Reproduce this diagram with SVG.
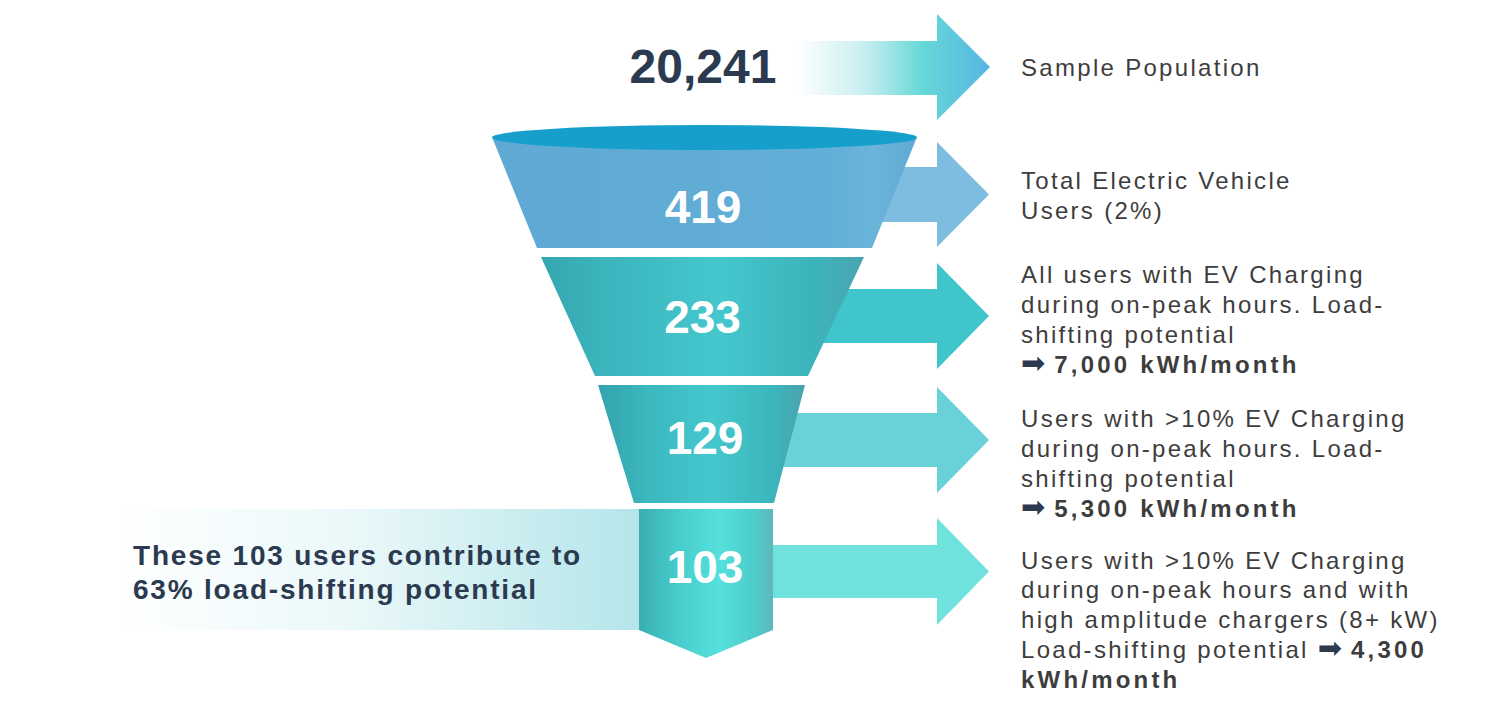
<svg xmlns="http://www.w3.org/2000/svg" width="1500" height="719" viewBox="0 0 1500 719">
<defs>
<linearGradient id="gTop" gradientUnits="userSpaceOnUse" x1="797" y1="0" x2="990" y2="0">
<stop offset="0" stop-color="#ffffff"/>
<stop offset="0.35" stop-color="#c8eef0"/>
<stop offset="0.65" stop-color="#66d8d8"/>
<stop offset="1" stop-color="#56b6e2"/>
</linearGradient>
<linearGradient id="gS1" gradientUnits="userSpaceOnUse" x1="492" y1="0" x2="917" y2="0">
<stop offset="0" stop-color="#5fa9d4"/>
<stop offset="0.8" stop-color="#62afd7"/>
<stop offset="0.9" stop-color="#6ab4da"/>
<stop offset="1" stop-color="#5fa8d2"/>
</linearGradient>
<linearGradient id="gS2" gradientUnits="userSpaceOnUse" x1="541" y1="0" x2="864" y2="0">
<stop offset="0" stop-color="#35a6b0"/>
<stop offset="0.2" stop-color="#3cb5bd"/>
<stop offset="0.55" stop-color="#44c7cd"/>
<stop offset="0.85" stop-color="#3cb3bb"/>
<stop offset="1" stop-color="#4aa5b0"/>
</linearGradient>
<linearGradient id="gS3" gradientUnits="userSpaceOnUse" x1="598" y1="0" x2="805" y2="0">
<stop offset="0" stop-color="#33a3ad"/>
<stop offset="0.25" stop-color="#3cb8bf"/>
<stop offset="0.55" stop-color="#44c8cd"/>
<stop offset="0.85" stop-color="#3cb5bc"/>
<stop offset="1" stop-color="#4aa2ad"/>
</linearGradient>
<linearGradient id="gS4" gradientUnits="userSpaceOnUse" x1="639" y1="0" x2="773" y2="0">
<stop offset="0" stop-color="#3aaeb2"/>
<stop offset="0.3" stop-color="#48cdcd"/>
<stop offset="0.6" stop-color="#56e0dc"/>
<stop offset="0.85" stop-color="#4ccdcc"/>
<stop offset="1" stop-color="#5fb8bc"/>
</linearGradient>
<linearGradient id="gLeft" gradientUnits="userSpaceOnUse" x1="120" y1="0" x2="639" y2="0">
<stop offset="0" stop-color="#ffffff"/>
<stop offset="0.45" stop-color="#eaf8f9"/>
<stop offset="1" stop-color="#b4e5ea"/>
</linearGradient>
</defs>
<style>
.num{font-family:"Liberation Sans",Arial,sans-serif;font-weight:bold;fill:#ffffff;font-size:46px;text-anchor:middle}
.big{font-family:"Liberation Sans",Arial,sans-serif;font-weight:bold;fill:#2c3a50;font-size:48px;text-anchor:middle}
.lead{font-family:"Liberation Sans",Arial,sans-serif;font-weight:bold;fill:#2c3a50;font-size:28px;letter-spacing:1.8px}
.desc{font-family:"Liberation Sans",Arial,sans-serif;fill:#3d3d3d;font-size:24px;letter-spacing:2.3px}
.b{font-weight:bold;letter-spacing:3.2px}
.ar{font-family:"DejaVu Sans",sans-serif;fill:#2c3a50;font-size:29px;letter-spacing:0}
</style>
<rect width="1500" height="719" fill="#ffffff"/>
<g id="connectors">
<polygon points="797,41 937,41 937,14 990,67 937,120 937,95 797,95" fill="url(#gTop)"/>
<polygon points="860,167 937,167 937,142 989,194.5 937,247 937,222 860,222" fill="#7ebde0"/>
<polygon points="820,289 937,289 937,263 989,316 937,369 937,343 820,343" fill="#40c5cc"/>
<polygon points="780,413 937,413 937,387 989,440 937,493 937,467 780,467" fill="#68d2d8"/>
<polygon points="760,545 937,545 937,518 989,571.5 937,625 937,598 760,598" fill="#70e2de"/>
</g>
<g id="highlight">
<rect x="120" y="509" width="519" height="121" fill="url(#gLeft)"/>
<text class="lead" x="133" y="565">These 103 users contribute to</text>
<text class="lead" x="133" y="599">63% load-shifting potential</text>
</g>
<g id="sample">
<text class="big" x="703" y="83">20,241</text>
</g>
<g id="seg1">
<polygon points="492,137 917,137 872,248 537,248" fill="url(#gS1)"/>
<ellipse cx="704.5" cy="137.5" rx="212.5" ry="12.5" fill="#179fcb"/>
<text class="num" x="703" y="223">419</text>
</g>
<g id="seg2">
<polygon points="541,257 864,257 808,376 595,376" fill="url(#gS2)"/>
<text class="num" x="702.5" y="333">233</text>
</g>
<g id="seg3">
<polygon points="598,385 805,385 774,503 634,503" fill="url(#gS3)"/>
<text class="num" x="705" y="454">129</text>
</g>
<g id="seg4">
<polygon points="639,509 773,509 773,630 706,658 639,630" fill="url(#gS4)"/>
<text class="num" x="705" y="583">103</text>
</g>
<g id="label1">
<text class="desc" x="1021" y="76">Sample Population</text>
</g>
<g id="label2">
<text class="desc" x="1021" y="189">Total Electric Vehicle</text>
<text class="desc" x="1021" y="219">Users (2%)</text>
</g>
<g id="label3">
<text class="desc" x="1021" y="283">All users with EV Charging</text>
<text class="desc" x="1021" y="313">during on-peak hours. Load-</text>
<text class="desc" x="1021" y="343">shifting potential</text>
<text class="desc" x="1021" y="373"><tspan class="ar">➡</tspan> <tspan class="b">7,000 kWh/month</tspan></text>
</g>
<g id="label4">
<text class="desc" x="1021" y="427">Users with &gt;10% EV Charging</text>
<text class="desc" x="1021" y="457">during on-peak hours. Load-</text>
<text class="desc" x="1021" y="487">shifting potential</text>
<text class="desc" x="1021" y="517"><tspan class="ar">➡</tspan> <tspan class="b">5,300 kWh/month</tspan></text>
</g>
<g id="label5">
<text class="desc" x="1021" y="569">Users with &gt;10% EV Charging</text>
<text class="desc" x="1021" y="598">during on-peak hours and with</text>
<text class="desc" x="1021" y="628">high amplitude chargers (8+ kW)</text>
<text class="desc" x="1021" y="658">Load-shifting potential <tspan class="ar">➡</tspan> <tspan class="b">4,300</tspan></text>
<text class="desc b" x="1021" y="688">kWh/month</text>
</g>
</svg>
